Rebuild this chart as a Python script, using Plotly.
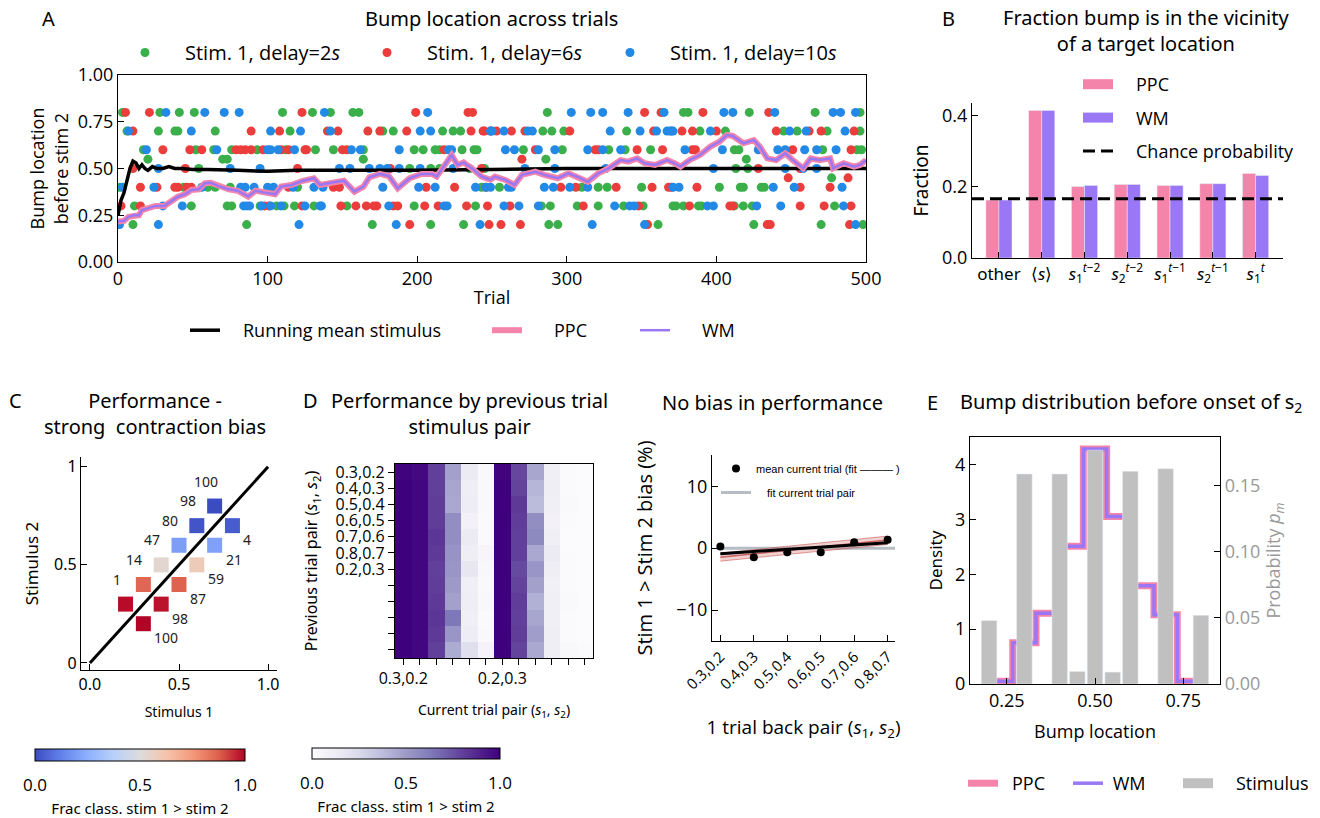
import plotly.graph_objects as go

W, H = 1320, 818
CM = "Open Sans"
NS = "Noto Sans"
PINK = "#f584ab"
PURPLE = "#9a77f5"
GREEN = "#3aaf4a"
RED = "#ec3d3d"
BLUE = "#2389e6"
GRAY = "#c0c0c0"
EN = "\u2002"

# ---------------- Panel A data ----------------
trial_ticks = [0, 100, 200, 300, 400, 500]
loc_ticks = [0.0, 0.25, 0.5, 0.75, 1.0]

green_delay2 = {
    0.8: [3, 28, 41, 51, 110, 130, 142, 157, 161, 287, 378, 381, 422, 466, 496],
    0.7: [6, 27, 38, 40, 65, 115, 177, 184, 217, 224, 229, 284, 290, 298, 340, 370, 389, 406, 445, 454, 474, 496],
    0.6: [17, 52, 64, 76, 93, 112, 132, 144, 164, 198, 204, 212, 215, 230, 238, 240, 271, 297, 328, 339, 356, 412, 415, 471, 494, 497],
    0.55: [20, 70, 73, 164, 286, 420],
    0.5: [54, 195, 209, 215, 235, 245, 413, 421],
    0.45: [477],
    0.4: [1, 44, 60, 65, 75, 120, 243, 255, 310, 321, 327, 350, 402, 416, 418, 430, 432],
    0.3: [11, 49, 73, 76, 95, 106, 111, 118, 131, 153, 198, 239, 283, 289, 307, 321, 338, 351, 371, 373, 378, 388, 390, 412, 418, 424, 479],
    0.2: [10, 86, 170, 209, 231, 288, 294, 361, 425, 470, 498],
}
red_delay6 = {
    0.8: [5, 21, 123, 199, 234, 237, 352, 363, 391, 435],
    0.7: [10, 89, 108, 140, 147, 167, 175, 193, 236, 244, 245, 249, 253, 263, 272, 302, 358, 377, 384, 400, 440, 462, 470, 492],
    0.6: [30, 48, 56, 79, 82, 85, 89, 97, 109, 114, 125, 126, 150, 153, 218, 279, 319, 321, 347, 364, 384, 386, 451, 490],
    0.55: [270],
    0.5: [10, 45, 120, 182, 243, 428, 456],
    0.45: [448, 488],
    0.4: [15, 26, 38, 40, 46, 49, 114, 144, 148, 206, 225, 246, 296, 306, 333, 357, 368, 370, 387, 456, 476],
    0.3: [2, 15, 98, 101, 123, 149, 159, 166, 171, 173, 184, 187, 205, 214, 233, 247, 262, 311, 348, 382, 409, 411, 456, 472, 490],
    0.2: [195, 248, 256, 269, 354, 434, 436, 489],
}
blue_delay10 = {
    0.8: [32, 58, 71, 81, 138, 207, 303, 316, 324, 341, 365, 405, 411, 439, 478, 483, 493],
    0.7: [7, 49, 102, 122, 142, 202, 209, 249, 250, 258, 274, 277, 329, 349, 360, 367, 369, 371, 396, 449, 460, 486],
    0.6: [19, 66, 100, 102, 107, 118, 156, 162, 188, 221, 223, 259, 265, 281, 292, 314, 324, 336, 379, 404, 428, 441, 446, 459, 467, 480],
    0.5: [27, 75, 95, 148, 155, 168, 175, 180, 188, 202, 224, 272, 292, 326, 398, 446, 458, 467],
    0.4: [3, 24, 56, 82, 85, 91, 100, 104, 117, 131, 137, 177, 201, 212, 239, 246, 249, 261, 263, 285, 291, 302, 314, 371, 375, 438, 452, 484],
    0.3: [30, 43, 84, 86, 88, 96, 102, 109, 125, 135, 136, 181, 218, 220, 258, 268, 281, 332, 342, 345, 394, 398, 427, 443, 485],
    0.2: [1, 27, 121, 186, 242, 317, 352, 493],
}

mean_trials = [0, 2, 4, 6, 8, 10, 12, 14, 16, 18, 20, 23, 26, 30, 34, 38, 42, 50, 60, 80, 100, 120, 150, 180, 200, 250, 300, 350, 400, 450, 500]
mean_stim = [0.25, 0.33, 0.37, 0.44, 0.50, 0.54, 0.53, 0.50, 0.52, 0.50, 0.49, 0.51, 0.50, 0.50, 0.51, 0.50, 0.50, 0.495, 0.495, 0.49, 0.485, 0.49, 0.49, 0.49, 0.49, 0.495, 0.50, 0.50, 0.50, 0.50, 0.50]

wm_trials = [0, 4, 7, 11, 14, 16, 20, 25, 31, 36, 40, 45, 49, 54, 58, 62, 67, 74, 80, 87,
             92, 98, 105, 109, 116, 123, 131, 135, 142, 151, 158, 164, 168, 175, 181, 187, 195, 203, 210, 213,
             220, 223, 227, 231, 238, 243, 249, 252, 259, 265, 270, 279, 285, 294, 301, 308, 314, 321, 328, 336,
             341, 347, 352, 359, 367, 372, 376, 382, 389, 396, 402, 407, 411, 418, 425, 429, 434, 440, 446, 451,
             458, 463, 469, 476, 478, 485, 492, 496, 500]
wm_bump = [0.216, 0.22, 0.242, 0.251, 0.25, 0.278, 0.287, 0.30, 0.30, 0.33, 0.349, 0.363, 0.385, 0.389, 0.421, 0.424, 0.406, 0.389, 0.381, 0.35,
           0.381, 0.371, 0.362, 0.403, 0.412, 0.433, 0.448, 0.412, 0.424, 0.435, 0.376, 0.403, 0.453, 0.471, 0.46, 0.394, 0.448, 0.471, 0.471, 0.457,
           0.536, 0.572, 0.519, 0.532, 0.492, 0.457, 0.44, 0.457, 0.439, 0.412, 0.466, 0.483, 0.466, 0.448, 0.474, 0.453, 0.429, 0.474, 0.501, 0.545,
           0.537, 0.554, 0.528, 0.519, 0.545, 0.528, 0.51, 0.545, 0.572, 0.617, 0.643, 0.679, 0.674, 0.635, 0.652, 0.617, 0.554, 0.545, 0.581, 0.545,
           0.501, 0.554, 0.545, 0.554, 0.501, 0.528, 0.51, 0.519, 0.545]
ppc_trials = list(wm_trials)
ppc_bump = list(wm_bump)

# ---------------- Panel B data ----------------
b_labels = ["other", "⟨<i>s</i>⟩",
            "<i>s</i><sub>1</sub><sup><i>t</i>−2</sup>", "<i>s</i><sub>2</sub><sup><i>t</i>−2</sup>",
            "<i>s</i><sub>1</sub><sup><i>t</i>−1</sup>", "<i>s</i><sub>2</sub><sup><i>t</i>−1</sup>",
            "<i>s</i><sub>1</sub><sup><i>t</i></sup>"]
b_pos = [0, 1, 2, 3, 4, 5, 6]
ppc_frac = [0.163, 0.415, 0.201, 0.207, 0.204, 0.209, 0.238]
wm_frac = [0.163, 0.415, 0.204, 0.207, 0.204, 0.209, 0.232]
chance_prob = 0.167
b_yticks = [0.0, 0.2, 0.4]

# ---------------- Panel C data ----------------
c_s1 = [0.2, 0.3, 0.4, 0.5, 0.6, 0.7, 0.3, 0.4, 0.5, 0.6, 0.7, 0.8]
c_s2 = [0.3, 0.4, 0.5, 0.6, 0.7, 0.8, 0.2, 0.3, 0.4, 0.5, 0.6, 0.7]
c_frac = [0.99, 0.86, 0.53, 0.20, 0.02, 0.0, 1.0, 0.98, 0.87, 0.59, 0.21, 0.04]
c_perf = [1, 14, 47, 80, 98, 100, 100, 98, 87, 59, 21, 4]
diag = [0, 1]

# ---------------- Panel D data ----------------
d_cur_labels = ["0.3,0.2", "", "", "", "", "", "0.2,0.3", "", "", "", "", ""]
d_prev_labels = ["0.3,0.2", "0.4,0.3", "0.5,0.4", "0.6,0.5", "0.7,0.6", "0.8,0.7", "0.2,0.3", "", "", "", "", ""]
d_matrix = [
    [0.99, 0.97, 0.80, 0.48, 0.14, 0.03, 0.99, 0.78, 0.46, 0.11, 0.02, 0.01],
    [1.00, 0.98, 0.80, 0.46, 0.12, 0.03, 1.00, 0.79, 0.40, 0.12, 0.02, 0.01],
    [1.00, 0.98, 0.81, 0.45, 0.13, 0.03, 1.00, 0.82, 0.38, 0.11, 0.03, 0.01],
    [1.00, 0.98, 0.81, 0.55, 0.09, 0.02, 1.00, 0.81, 0.55, 0.09, 0.02, 0.01],
    [1.00, 0.98, 0.83, 0.55, 0.14, 0.02, 1.00, 0.80, 0.57, 0.11, 0.01, 0.01],
    [1.00, 0.98, 0.82, 0.53, 0.12, 0.05, 1.00, 0.80, 0.45, 0.14, 0.02, 0.01],
    [1.00, 0.98, 0.80, 0.52, 0.17, 0.04, 1.00, 0.77, 0.52, 0.12, 0.02, 0.01],
    [1.00, 0.98, 0.81, 0.50, 0.11, 0.03, 1.00, 0.79, 0.48, 0.10, 0.02, 0.01],
    [1.00, 0.98, 0.82, 0.48, 0.12, 0.04, 1.00, 0.81, 0.42, 0.11, 0.03, 0.01],
    [1.00, 0.98, 0.83, 0.64, 0.11, 0.02, 1.00, 0.80, 0.46, 0.11, 0.02, 0.01],
    [1.00, 0.98, 0.82, 0.52, 0.13, 0.03, 1.00, 0.81, 0.49, 0.12, 0.02, 0.01],
    [1.00, 0.98, 0.80, 0.44, 0.22, 0.07, 1.00, 0.79, 0.45, 0.12, 0.04, 0.02],
]

# ---------------- Bias panel data ----------------
back_pairs = ["0.3,0.2", "0.4,0.3", "0.5,0.4", "0.6,0.5", "0.7,0.6", "0.8,0.7"]
back_pos = [0, 1, 2, 3, 4, 5]
bias_mean = [0.28, -1.46, -0.65, -0.65, 0.97, 1.36]
fit_x = [0, 5]
fit_mean = [-0.9, 0.88]
fit_red = [-1.45, 1.3]
fit_red_lo = [-2.1, 0.6]
fit_red_hi = [-0.8, 1.95]
pair_fit_x = [-0.1, 5.25]
pair_fit = [0.0, 0.0]
bias_ticks = [-10, 0, 10]

# ---------------- Panel E data ----------------
stim_locs = [0.2, 0.3, 0.4, 0.45, 0.5, 0.55, 0.6, 0.7, 0.8]
stim_prob = [0.048, 0.159, 0.159, 0.0095, 0.177, 0.009, 0.161, 0.163, 0.052]
bin_edges = [0.2, 0.267, 0.333, 0.4, 0.467, 0.533, 0.6, 0.667, 0.733, 0.8]
ppc_density = [0.05, 0.75, 1.29, 2.51, 4.28, 3.05, 1.79, 1.26, 0.05]
wm_density = [0.05, 0.75, 1.29, 2.51, 4.28, 3.05, 1.79, 1.26, 0.05]

COOLWARM = [[0, '#3b4cc0'], [0.125, '#6282ea'], [0.25, '#8db0fe'], [0.375, '#b8d0f9'], [0.5, '#dddcdc'],
            [0.625, '#f5c4ac'], [0.75, '#f49a7b'], [0.875, '#dd604d'], [1, '#b40426']]


def dx(a, b):
    return [a / W, b / W]


def dy(top, bottom):
    return [1 - bottom / H, 1 - top / H]


def flatten(d):
    xs, ys = [], []
    for lvl, trials in d.items():
        xs += trials
        ys += [lvl] * len(trials)
    return xs, ys


def cbar(x0, y0, length, thick):
    return dict(orientation="h", x=x0 / W, xanchor="left", y=1 - y0 / H, yanchor="top", len=length / W,
                thickness=thick, outlinewidth=1, outlinecolor="black",
                tickvals=[0, 0.5, 1], ticktext=["0.0", "0.5", "1.0"],
                ticks="outside", ticklen=10, tickcolor="rgba(0,0,0,0)",
                tickfont=dict(family=CM, size=17, color="black"),
                title=dict(text="Frac class. stim 1 > stim 2", side="bottom", font=dict(family=NS, size=15)),
                xpad=0, ypad=0)


fig = go.Figure()

# ---- Panel A ----
for d, col, nm, lg in [(green_delay2, GREEN, "Stim. 1, delay=2<i>s</i>", "legend"),
                       (red_delay6, RED, "Stim. 1, delay=6<i>s</i>", "legend6"),
                       (blue_delay10, BLUE, "Stim. 1, delay=10<i>s</i>", "legend7")]:
    xs, ys = flatten(d)
    fig.add_trace(go.Scatter(x=xs, y=ys, mode="markers", name=EN * 2 + nm, legend=lg,
                             marker=dict(color=col, size=9), xaxis="x", yaxis="y"))
fig.add_trace(go.Scatter(x=mean_trials, y=mean_stim, mode="lines", name=EN * 2 + "Running mean stimulus",
                         line=dict(color="black", width=3.5), legend="legend2", xaxis="x", yaxis="y"))
fig.add_trace(go.Scatter(x=ppc_trials, y=ppc_bump, mode="lines", name=EN * 3 + "PPC",
                         line=dict(color=PINK, width=6), legend="legend8", xaxis="x", yaxis="y"))
fig.add_trace(go.Scatter(x=wm_trials, y=wm_bump, mode="lines", name=EN * 3 + "WM",
                         line=dict(color=PURPLE, width=2.5), legend="legend9", xaxis="x", yaxis="y"))

# ---- Panel B ----
fig.add_trace(go.Bar(x=b_pos, y=ppc_frac, marker_color=PINK, name="PPC", showlegend=False,
                     xaxis="x2", yaxis="y2"))
fig.add_trace(go.Bar(x=b_pos, y=wm_frac, marker_color=PURPLE, name="WM", showlegend=False,
                     xaxis="x2", yaxis="y2"))
fig.add_trace(go.Scatter(x=[None], y=[None], mode="lines", name=EN * 2 + "PPC", legend="legend3", legendgroup="b1",
                         line=dict(color=PINK, width=10), xaxis="x2", yaxis="y2"))
fig.add_trace(go.Scatter(x=[None], y=[None], mode="lines", name=EN * 2 + "WM", legend="legend3", legendgroup="b2",
                         line=dict(color=PURPLE, width=10), xaxis="x2", yaxis="y2"))
fig.add_trace(go.Scatter(x=[-0.63, 6.64], y=[chance_prob, chance_prob], mode="lines",
                         name=EN * 2 + "Chance probability", legend="legend3", legendgroup="b3",
                         line=dict(color="black", width=3, dash="12px,6px"), xaxis="x2", yaxis="y2"))

# ---- Panel C ----
fig.add_trace(go.Scatter(x=diag, y=diag, mode="lines", line=dict(color="black", width=3),
                         showlegend=False, xaxis="x3", yaxis="y3"))
fig.add_trace(go.Scatter(x=c_s1, y=c_s2, mode="markers", showlegend=False, xaxis="x3", yaxis="y3",
                         marker=dict(symbol="square", size=15, color=c_frac, colorscale=COOLWARM,
                                     cmin=0, cmax=1, showscale=True, colorbar=cbar(35, 749, 210, 12))))
for s1, s2, p in zip(c_s1, c_s2, c_perf):
    if s2 > s1:
        fig.add_annotation(x=s1, y=s2, xref="x3", yref="y3", text=str(p), showarrow=False,
                           xanchor="center", yanchor="middle", xshift=-9, yshift=25,
                           font=dict(family=NS, size=14, color="#222"))
    else:
        fig.add_annotation(x=s1, y=s2, xref="x3", yref="y3", text=str(p), showarrow=False,
                           xanchor="left", yanchor="middle", xshift=9, yshift=-14,
                           font=dict(family=NS, size=14, color="#222"))

# ---- Panel D ----
fig.add_trace(go.Heatmap(z=d_matrix, x=list(range(12)), y=list(range(12)), colorscale="Purples",
                         zmin=0, zmax=1, xaxis="x4", yaxis="y4", colorbar=cbar(312, 748, 188, 11)))

# ---- Bias panel ----
fig.add_trace(go.Scatter(x=pair_fit_x, y=pair_fit, mode="lines", name=EN * 2 + "fit current trial pair",
                         line=dict(color="rgba(150,160,170,0.7)", width=3), legend="legend4", legendrank=2,
                         legendgroup="p2", xaxis="x5", yaxis="y5"))
fig.add_trace(go.Scatter(x=fit_x, y=fit_red_lo, mode="lines", line=dict(color="rgba(200,90,90,0.6)", width=1),
                         showlegend=False, xaxis="x5", yaxis="y5"))
fig.add_trace(go.Scatter(x=fit_x, y=fit_red_hi, mode="lines", line=dict(color="rgba(200,90,90,0.6)", width=1),
                         fill="tonexty", fillcolor="rgba(215,120,120,0.35)", showlegend=False,
                         xaxis="x5", yaxis="y5"))
fig.add_trace(go.Scatter(x=fit_x, y=fit_red, mode="lines", line=dict(color="rgba(190,70,70,0.8)", width=1.5),
                         showlegend=False, xaxis="x5", yaxis="y5"))
fig.add_trace(go.Scatter(x=fit_x, y=fit_mean, mode="lines", line=dict(color="black", width=3),
                         showlegend=False, xaxis="x5", yaxis="y5"))
fig.add_trace(go.Scatter(x=back_pos, y=bias_mean, mode="markers", name="mean current trial (fit ——— )",
                         marker=dict(color="black", size=8), legend="legend4", legendrank=1, legendgroup="p1",
                         xaxis="x5", yaxis="y5"))

# ---- Panel E ----
fig.add_trace(go.Bar(x=stim_locs, y=stim_prob, width=0.044, marker_color=GRAY, showlegend=False,
                     xaxis="x6", yaxis="y7"))
fig.add_trace(go.Scatter(x=bin_edges, y=ppc_density + [ppc_density[-1]], mode="lines", line_shape="hv",
                         line=dict(color=PINK, width=7), name=EN + "PPC", legend="legend5", xaxis="x6", yaxis="y6"))
fig.add_trace(go.Scatter(x=bin_edges, y=wm_density + [wm_density[-1]], mode="lines", line_shape="hv",
                         line=dict(color=PURPLE, width=3.5), name="\u00a0WM", legend="legend10", xaxis="x6", yaxis="y6"))
fig.add_trace(go.Scatter(x=[None], y=[None], mode="lines", line=dict(color=GRAY, width=10), name=EN * 2 + "Stimulus",
                         legend="legend11", xaxis="x6", yaxis="y6"))

ax = dict(showgrid=False, zeroline=False, showline=True, linecolor="black", linewidth=1.3,
          ticks="inside", ticklen=6, tickcolor="black", tickwidth=1.3, automargin=False,
          tickfont=dict(family=CM, size=18, color="black"))

layout = dict(
    width=W, height=H, margin=dict(l=0, r=0, t=0, b=0, autoexpand=False),
    paper_bgcolor="white", plot_bgcolor="white", hovermode=False,
    font=dict(family=CM, size=18, color="black"),
    bargap=0.39, bargroupgap=0,
    xaxis=dict(ax, domain=dx(118, 866), range=[0, 500], tickvals=trial_ticks, mirror=True, anchor="y",
               title=dict(text="Trial", font=dict(family=CM, size=18), standoff=2)),
    yaxis=dict(ax, domain=dy(75, 262), range=[0, 1], tickvals=loc_ticks, tickformat=".2f", mirror=True,
               anchor="x", title=dict(text="Bump location<br>before stim 2", font=dict(family=CM, size=18), standoff=4)),
    xaxis2=dict(ax, domain=dx(972, 1283), range=[-0.63, 6.64], tickvals=b_pos, ticktext=b_labels, anchor="y2",
                tickfont=dict(family=NS, size=17, color="black")),
    yaxis2=dict(ax, domain=dy(103, 258), range=[0, 0.436], tickvals=b_yticks, tickformat=".1f", anchor="x2",
                title=dict(text="Fraction", font=dict(family=NS, size=19), standoff=8)),
    xaxis3=dict(ax, domain=dx(81, 277), range=[-0.05, 1.05], tickvals=[0, 0.5, 1], ticktext=["0.0", "0.5", "1.0"],
                anchor="y3", tickfont=dict(family=NS, size=16, color="black"),
                title=dict(text="Stimulus 1", font=dict(family=NS, size=14), standoff=12)),
    yaxis3=dict(ax, domain=dy(457, 670), range=[-0.036, 1.05], tickvals=[0, 0.5, 1], ticktext=["0", "0.5", "1"],
                anchor="x3", tickfont=dict(family=NS, size=16, color="black"),
                title=dict(text="Stimulus 2", font=dict(family=NS, size=17), standoff=11)),
    xaxis4=dict(ax, domain=dx(395, 593), range=[-0.5, 11.5], tickvals=list(range(12)), ticktext=d_cur_labels,
                ticks="outside", mirror=True, anchor="y4", tickfont=dict(family=CM, size=16, color="black"),
                title=dict(text="Current trial pair (<i>s</i><sub>1</sub>, <i>s</i><sub>2</sub>)",
                           font=dict(family=NS, size=14), standoff=16)),
    yaxis4=dict(ax, domain=dy(464, 658), range=[11.5, -0.5], tickvals=list(range(12)), ticktext=d_prev_labels,
                ticks="outside", mirror=True, anchor="x4", tickfont=dict(family=CM, size=16, color="black"),
                title=dict(text="Previous trial pair (<i>s</i><sub>1</sub>, <i>s</i><sub>2</sub>)",
                           font=dict(family=NS, size=16), standoff=13)),
    xaxis5=dict(ax, domain=dx(712, 895), range=[-0.25, 5.22], tickvals=back_pos, ticktext=back_pairs,
                tickangle=-45, anchor="y5", tickfont=dict(family=CM, size=15, color="black"),
                title=dict(text="1 trial back pair (<i>s</i><sub>1</sub>, <i>s</i><sub>2</sub>)",
                           font=dict(family=CM, size=19), standoff=28)),
    yaxis5=dict(ax, domain=dy(455, 641), range=[-15, 15.05], tickvals=bias_ticks, ticktext=["−10", "0", "10"],
                anchor="x5", title=dict(text="Stim 1 > Stim 2 bias (%)", font=dict(family=CM, size=20), standoff=18)),
    xaxis6=dict(ax, domain=dx(970, 1220), range=[0.146, 0.854], tickvals=[0.25, 0.5, 0.75],
                ticktext=["0.25", "0.50", "0.75"], mirror=True, anchor="y6",
                title=dict(text="Bump location", font=dict(family=CM, size=18), standoff=14)),
    yaxis6=dict(ax, domain=dy(437, 684), range=[0, 4.5], tickvals=[0, 1, 2, 3, 4], anchor="x6",
                title=dict(text="Density", font=dict(family=NS, size=17), standoff=8)),
    yaxis7=dict(ax, domain=dy(437, 684), range=[0, 0.187], tickvals=[0, 0.05, 0.1, 0.15], tickformat=".2f",
                overlaying="y6", side="right", anchor="x6",
                tickfont=dict(family=CM, size=18, color="#999999"),
                title=dict(text="Probability <i>p<sub>m</sub></i>", font=dict(family=CM, size=18, color="#999999"),
                           standoff=8)),
)


def leg(x, y, orientation="h", size=18, family=CM, **kw):
    d = dict(orientation=orientation, x=x / W, y=1 - y / H, xanchor="left", yanchor="top",
             font=dict(family=family, size=size, color="black"), bgcolor="rgba(0,0,0,0)",
             traceorder="normal", borderwidth=0)
    d.update(kw)
    return d


layout.update(
    legend=leg(125, 33, size=20),
    legend6=leg(367, 33, size=20),
    legend7=leg(610, 33, size=20),
    legend2=leg(185, 312),
    legend8=leg(487, 312),
    legend9=leg(635, 312),
    legend3=leg(1078, 66, orientation="v", traceorder="grouped", tracegroupgap=7),
    legend4=leg(716, 454, orientation="v", size=11, family="Liberation Sans", traceorder="grouped",
                tracegroupgap=5),
    legend5=leg(963, 765),
    legend10=leg(1068, 765),
    legend11=leg(1178, 765),
)
fig.update_layout(**layout)


def ann(text, x, y, size=20, family=NS, xanchor="center"):
    fig.add_annotation(text=text, x=x / W, y=1 - y / H, xref="paper", yref="paper", showarrow=False,
                       xanchor=xanchor, yanchor="middle", font=dict(family=family, size=size, color="black"))


ann("A", 48, 18)
ann("Bump location across trials", 491, 18)
ann("B", 948, 18)
ann("Fraction bump is in the vicinity<br>of a target location", 1146, 30)
ann("C", 15, 401)
ann("Performance -<br>strong  contraction bias", 155, 414)
ann("D", 310, 400)
ann("Performance by previous trial<br>stimulus pair", 469, 414)
ann("No bias in performance", 772, 402)
ann("E", 932, 402)
ann("Bump distribution before onset of s<sub>2</sub>", 1131, 402)

fig.write_html("out.html")
